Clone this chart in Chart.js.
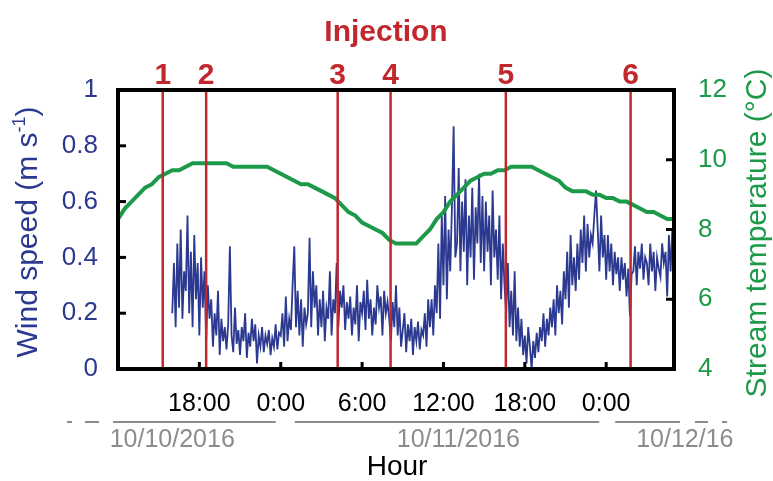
<!DOCTYPE html>
<html>
<head>
<meta charset="utf-8">
<script src="https://cdn.jsdelivr.net/npm/chart.js@4.4.0/dist/chart.umd.min.js"></script>
<style>
  body { margin: 0; background: #fff; }
  #wrap { width: 773px; height: 481px; position: relative; }
</style>
</head>
<body>
<div id="wrap"><canvas id="windChart"></canvas></div>
<script>
// wind speed, m/s, one reading every 7.5 min starting 16:00 on 10/10 (hours counted from 10/10 0:00)
var windStart = 16;
var windStep = 0.125;
var windSpeed = [
  0.20,0.38,0.15,0.45,0.22,0.50,0.18,0.35, // 16h
  0.28,0.55,0.20,0.42,0.15,0.48,0.25,0.38,
  0.12,0.40,0.22,0.35,0.10,0.30,0.18,0.25,
  0.08,0.20,0.12,0.28,0.05,0.18,0.10,0.15,
  0.07,0.16,0.44,0.12,0.06,0.22,0.09,0.14, // 20h
  0.05,0.15,0.10,0.20,0.04,0.13,0.08,0.18,
  0.10,0.16,0.02,0.12,0.08,0.15,0.06,0.12,
  0.09,0.14,0.05,0.11,0.08,0.16,0.07,0.13,
  0.12,0.20,0.08,0.26,0.10,0.18,0.14,0.30, // 24h
  0.44,0.15,0.28,0.12,0.25,0.08,0.22,0.16,
  0.20,0.47,0.15,0.35,0.22,0.30,0.12,0.25,
  0.15,0.28,0.10,0.22,0.18,0.35,0.12,0.25,
  0.20,0.38,0.15,0.28,0.22,0.30,0.14,0.24, // 28h
  0.18,0.26,0.12,0.22,0.16,0.30,0.10,0.24,
  0.20,0.28,0.14,0.32,0.18,0.25,0.12,0.22,
  0.16,0.30,0.22,0.26,0.12,0.28,0.20,0.24,
  0.18,0.10,0.24,0.15,0.30,0.12,0.22,0.08, // 32h
  0.14,0.20,0.06,0.16,0.10,0.18,0.05,0.15,
  0.10,0.17,0.07,0.14,0.12,0.20,0.08,0.25,
  0.15,0.25,0.12,0.30,0.20,0.45,0.18,0.55,
  0.30,0.62,0.25,0.50,0.35,0.58,0.87,0.40, // 36h
  0.45,0.72,0.35,0.60,0.42,0.68,0.30,0.55,
  0.40,0.65,0.32,0.58,0.45,0.70,0.38,0.62,
  0.35,0.60,0.42,0.55,0.30,0.64,0.40,0.50,
  0.32,0.55,0.25,0.45,0.30,0.20,0.38,0.15, // 40h
  0.28,0.12,0.35,0.10,0.22,0.08,0.18,0.05,
  0.12,0.02,0.15,0.08,0.00,0.10,0.04,0.13,
  0.06,0.15,0.10,0.20,0.08,0.18,0.12,0.22,
  0.15,0.25,0.12,0.30,0.20,0.28,0.16,0.35, // 44h
  0.25,0.42,0.22,0.48,0.30,0.40,0.28,0.45,
  0.32,0.50,0.38,0.55,0.35,0.52,0.40,0.48,
  0.45,0.55,0.64,0.50,0.35,0.55,0.40,0.48,
  0.32,0.48,0.35,0.45,0.30,0.42,0.34,0.40, // 48h
  0.28,0.40,0.32,0.38,0.26,0.36,0.19,0.34,
  0.35,0.44,0.30,0.42,0.36,0.45,0.32,0.40,
  0.38,0.30,0.45,0.35,0.42,0.28,0.40,0.36,
  0.33,0.45,0.38,0.42,0.26,0.48,0.35,0.50  // 52h
];

// stream temperature, deg C, every 30 min from 12:00 on 10/10
var tempStart = 12;
var tempStep = 0.5;
var streamTemp = [
  8.3, 8.6, 8.8, 9.0, 9.2, 9.3, 9.5, 9.6, 9.7, 9.7, 9.8, 9.9,  // 12h
  9.9, 9.9, 9.9, 9.9, 9.9, 9.8, 9.8, 9.8, 9.8, 9.8, 9.8, 9.7,  // 18h
  9.6, 9.5, 9.4, 9.3, 9.3, 9.2, 9.1, 9.0, 8.9, 8.7, 8.5, 8.4,  // 24h
  8.2, 8.1, 8.0, 7.9, 7.7, 7.6, 7.6, 7.6, 7.6, 7.8, 8.0, 8.3,  // 30h
  8.5, 8.8, 9.0, 9.2, 9.4, 9.5, 9.6, 9.6, 9.7, 9.7, 9.8, 9.8,  // 36h
  9.8, 9.8, 9.7, 9.6, 9.5, 9.4, 9.2, 9.1, 9.1, 9.1, 9.0, 9.0,  // 42h
  8.9, 8.9, 8.8, 8.8, 8.7, 8.6, 8.5, 8.5, 8.4, 8.3, 8.3        // 48h
];

var xTickHours = [18, 24, 30, 36, 42, 48];
var injectionHours = [15.3, 18.5, 28.2, 32.1, 40.6, 49.8];
var injectionLabels = ['1', '2', '3', '4', '5', '6'];
var dateLabels = ['10/10/2016', '10/11/2016', '10/12/16'];
var dateLabelHours = [16, 37.1, 53.8];
var dayBreakHours = [24, 48];

var blue = '#2b3990';
var green = '#1d9a49';
var red = '#c1272d';
var gray = '#8c8c8c';
var font = 'Arial, "Liberation Sans", sans-serif';

var windData = windSpeed.map(function(v, i) { return {x: windStart + i * windStep, y: v}; });
var tempData = streamTemp.map(function(v, i) { return {x: tempStart + i * tempStep, y: v}; });

var overlay = {
  id: 'overlay',
  afterDatasetsDraw: function(chart) {
    var ctx = chart.ctx, a = chart.chartArea, xs = chart.scales.x;
    ctx.save();
    ctx.strokeStyle = red;
    ctx.lineWidth = 2.5;
    injectionHours.forEach(function(h) {
      var px = xs.getPixelForValue(h);
      ctx.beginPath();
      ctx.moveTo(px, a.top);
      ctx.lineTo(px, a.bottom);
      ctx.stroke();
    });
    ctx.restore();
  },
  afterDraw: function(chart) {
    var ctx = chart.ctx, a = chart.chartArea;
    var xs = chart.scales.x, ys = chart.scales.y, ys1 = chart.scales.y1;
    ctx.save();

    // frame and inward ticks
    ctx.strokeStyle = '#000';
    ctx.lineWidth = 3;
    [0.2, 0.4, 0.6, 0.8].forEach(function(v) {
      var py = ys.getPixelForValue(v);
      ctx.beginPath(); ctx.moveTo(a.left, py); ctx.lineTo(a.left + 8, py); ctx.stroke();
    });
    [6, 8, 10].forEach(function(v) {
      var py = ys1.getPixelForValue(v);
      ctx.beginPath(); ctx.moveTo(a.right, py); ctx.lineTo(a.right - 8, py); ctx.stroke();
    });
    xTickHours.forEach(function(h) {
      var px = xs.getPixelForValue(h);
      ctx.beginPath(); ctx.moveTo(px, a.bottom); ctx.lineTo(px, a.bottom - 7); ctx.stroke();
    });
    ctx.lineWidth = 4;
    ctx.strokeRect(a.left, a.top, a.right - a.left, a.bottom - a.top);

    // injection title and numbers
    ctx.fillStyle = red;
    ctx.textAlign = 'center';
    ctx.textBaseline = 'alphabetic';
    ctx.font = 'bold 30px ' + font;
    ctx.fillText('Injection', 386, 41);
    injectionHours.forEach(function(h, i) {
      ctx.fillText(injectionLabels[i], xs.getPixelForValue(h), 84);
    });

    // left axis title with superscript
    ctx.save();
    ctx.translate(37, 232);
    ctx.rotate(-Math.PI / 2);
    ctx.fillStyle = blue;
    ctx.textAlign = 'left';
    var main = 'Wind speed (m s', sup = '-1', close = ')';
    ctx.font = '30px ' + font;
    var w1 = ctx.measureText(main).width, w3 = ctx.measureText(close).width;
    ctx.font = '18px ' + font;
    var w2 = ctx.measureText(sup).width;
    var sx = -(w1 + w2 + w3) / 2;
    ctx.font = '30px ' + font;
    ctx.fillText(main, sx, 0);
    ctx.font = '18px ' + font;
    ctx.fillText(sup, sx + w1, -12);
    ctx.font = '30px ' + font;
    ctx.fillText(close, sx + w1 + w2, 0);
    ctx.restore();

    // right axis title
    ctx.save();
    ctx.translate(766, 233);
    ctx.rotate(-Math.PI / 2);
    ctx.fillStyle = green;
    ctx.textAlign = 'center';
    ctx.font = '30px ' + font;
    ctx.fillText('Stream temperature (\u00B0C)', 0, 0);
    ctx.restore();

    // date row
    ctx.strokeStyle = gray;
    ctx.lineWidth = 2;
    var lineY = 422;
    var segs = [
      [a.left - 51, a.left - 46],
      [a.left - 33, a.left - 19],
      [a.left - 5, xs.getPixelForValue(dayBreakHours[0]) - 5],
      [xs.getPixelForValue(dayBreakHours[0]) + 14, xs.getPixelForValue(dayBreakHours[1]) - 7],
      [xs.getPixelForValue(dayBreakHours[1]) + 9, a.right + 6],
      [a.right + 21, a.right + 34],
      [a.right + 48, a.right + 53]
    ];
    segs.forEach(function(s) {
      ctx.beginPath(); ctx.moveTo(s[0], lineY); ctx.lineTo(s[1], lineY); ctx.stroke();
    });
    ctx.fillStyle = gray;
    ctx.textAlign = 'center';
    ctx.font = '25px ' + font;
    dateLabels.forEach(function(t, i) {
      ctx.fillText(t, xs.getPixelForValue(dateLabelHours[i]), 447);
    });

    // x axis title
    ctx.fillStyle = '#000';
    ctx.font = '28px ' + font;
    ctx.fillText('Hour', 397, 475);

    ctx.restore();
  }
};

var ctx1 = document.getElementById('windChart').getContext('2d');

var windChart = new Chart(ctx1, {
  type: 'line',
  data: {
    datasets: [{
      label: 'Stream temperature',
      data: tempData,
      yAxisID: 'y1',
      borderColor: green,
      borderWidth: 4,
      pointRadius: 0,
      tension: 0,
      order: 1
    }, {
      label: 'Wind speed',
      data: windData,
      yAxisID: 'y',
      borderColor: blue,
      borderWidth: 1.8,
      pointRadius: 0,
      tension: 0,
      order: 2
    }]
  },
  options: {
    responsive: true,
    maintainAspectRatio: false,
    animation: false,
    layout: { padding: { top: 90, left: 0, right: 0, bottom: 0 } },
    plugins: { legend: { display: false }, tooltip: { enabled: false } },
    scales: {
      x: {
        type: 'linear',
        min: 12,
        max: 53,
        grid: { display: false, drawTicks: false },
        border: { display: false },
        afterBuildTicks: function(scale) {
          scale.ticks = xTickHours.map(function(h) { return {value: h}; });
        },
        afterFit: function(scale) { scale.height = 112; },
        ticks: {
          color: '#000',
          padding: 20,
          maxRotation: 0,
          font: { family: font, size: 25 },
          callback: function(v) { return (v % 24) + ':00'; }
        }
      },
      y: {
        position: 'left',
        min: 0,
        max: 1,
        grid: { display: false, drawTicks: false },
        border: { display: false },
        afterFit: function(scale) { scale.width = 118; },
        ticks: {
          stepSize: 0.2,
          color: blue,
          padding: 20,
          font: { family: font, size: 26 },
          callback: function(v) { return String(Math.round(v * 10) / 10); }
        }
      },
      y1: {
        position: 'right',
        min: 4,
        max: 12,
        grid: { display: false, drawTicks: false },
        border: { display: false },
        afterFit: function(scale) { scale.width = 99; },
        ticks: {
          stepSize: 2,
          color: green,
          padding: 24,
          font: { family: font, size: 26 }
        }
      }
    }
  },
  plugins: [overlay]
});
</script>
</body>
</html>
